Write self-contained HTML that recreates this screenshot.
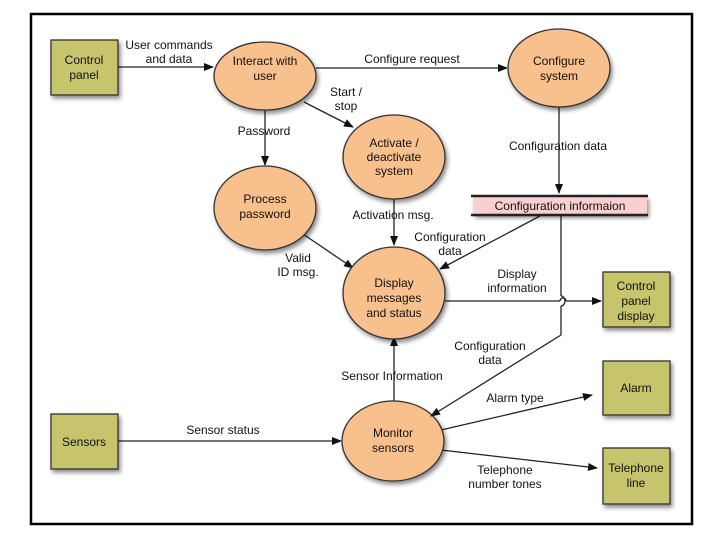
<!DOCTYPE html>
<html><head><meta charset="utf-8"><style>
html,body{margin:0;padding:0;background:#fff;}
svg{display:block;}
text{font-family:"Liberation Sans",sans-serif;font-size:12px;fill:#111;}
</style></head><body>
<svg width="720" height="540" viewBox="0 0 720 540" xmlns="http://www.w3.org/2000/svg">
<defs>
<marker id="a" markerWidth="10" markerHeight="8" refX="9" refY="4" orient="auto" markerUnits="userSpaceOnUse">
<path d="M0,0 L10,4 L0,8 z" fill="#111"/></marker>
<filter id="s" x="-20%" y="-20%" width="150%" height="150%"><feDropShadow dx="2" dy="3" stdDeviation="2" flood-color="#000" flood-opacity="0.45"/></filter>
</defs>
<rect x="31" y="14" width="661" height="510" fill="#fff" stroke="#000" stroke-width="2.5"/>

<g stroke="#222" stroke-width="1.3" fill="none">
<line x1="118" y1="67" x2="213" y2="67" marker-end="url(#a)"/>
<line x1="316" y1="68" x2="507" y2="68" marker-end="url(#a)"/>
<line x1="304" y1="102" x2="353" y2="127" marker-end="url(#a)"/>
<line x1="265" y1="110" x2="265" y2="165" marker-end="url(#a)"/>
<line x1="559" y1="107" x2="559" y2="193" marker-end="url(#a)"/>
<line x1="303" y1="234" x2="353" y2="268" marker-end="url(#a)"/>
<line x1="394" y1="199" x2="394" y2="245" marker-end="url(#a)"/>
<line x1="540" y1="216" x2="440" y2="269" marker-end="url(#a)"/>
<path d="M445,301 L560,301 M566,301 L601,301" marker-end="url(#a)"/>
<path d="M560,301 a3,3 0 0 1 6,0"/>
<path d="M561,216 L561,296 M561,306 L561,335"/>
<path d="M561,296 a4,5 0 0 1 0,10"/>
<line x1="394" y1="401" x2="394" y2="337" marker-end="url(#a)"/>
<line x1="118" y1="441" x2="341" y2="441" marker-end="url(#a)"/>
<line x1="441" y1="430" x2="592" y2="395" marker-end="url(#a)"/>
<line x1="441" y1="450" x2="597" y2="468" marker-end="url(#a)"/>
</g>

<g fill="#c6c46c" stroke="#333" stroke-width="1.3" filter="url(#s)">
<rect x="51" y="40" width="67" height="55"/>
<rect x="51" y="414" width="67" height="55"/>
<rect x="603" y="272" width="67" height="55"/>
<rect x="603" y="361" width="67" height="54"/>
<rect x="603" y="448" width="67" height="56"/>
</g>
<g fill="#f8c08c" stroke="#333" stroke-width="1.3" filter="url(#s)">
<ellipse cx="265" cy="76" rx="51" ry="34"/>
<ellipse cx="559" cy="68" rx="51" ry="39"/>
<ellipse cx="394" cy="157" rx="51" ry="42"/>
<ellipse cx="265" cy="208" rx="51" ry="42"/>
<ellipse cx="394" cy="293" rx="51" ry="46"/>
<ellipse cx="393" cy="441" rx="51" ry="40"/>
</g>
<line x1="561" y1="335" x2="431" y2="416" stroke="#222" stroke-width="1.3" marker-end="url(#a)"/>
<rect x="473" y="196" width="174" height="19" fill="#f9cfcf" filter="url(#s)"/>
<line x1="471" y1="196" x2="648" y2="196" stroke="#222" stroke-width="2.5"/>
<line x1="471" y1="215" x2="648" y2="215" stroke="#222" stroke-width="2.5"/>

<g text-anchor="middle">
<text x="84" y="64">Control</text><text x="84" y="79">panel</text>
<text x="84" y="446">Sensors</text>
<text x="636" y="290">Control</text><text x="636" y="305">panel</text><text x="636" y="320">display</text>
<text x="636" y="392">Alarm</text>
<text x="636" y="472">Telephone</text><text x="636" y="487">line</text>

<text x="265" y="65">Interact with</text><text x="265" y="80">user</text>
<text x="559" y="65">Configure</text><text x="559" y="80">system</text>
<text x="394" y="147">Activate /</text><text x="394" y="161">deactivate</text><text x="394" y="175">system</text>
<text x="265" y="203">Process</text><text x="265" y="218">password</text>
<text x="394" y="287">Display</text><text x="394" y="302">messages</text><text x="394" y="317">and status</text>
<text x="393" y="437">Monitor</text><text x="393" y="452">sensors</text>
<text x="560" y="210">Configuration informaion</text>

<text x="169" y="49">User commands</text><text x="169" y="63">and data</text>
<text x="412" y="63">Configure request</text>
<text x="346" y="96">Start /</text><text x="346" y="110">stop</text>
<text x="264" y="135">Password</text>
<text x="558" y="150">Configuration data</text>
<text x="393" y="219">Activation msg.</text>
<text x="450" y="241">Configuration</text><text x="450" y="255">data</text>
<text x="298" y="262">Valid</text><text x="298" y="276">ID msg.</text>
<text x="517" y="278">Display</text><text x="517" y="292">information</text>
<text x="490" y="350">Configuration</text><text x="490" y="364">data</text>
<text x="392" y="380">Sensor Information</text>
<text x="515" y="402">Alarm type</text>
<text x="223" y="434">Sensor status</text>
<text x="505" y="474">Telephone</text><text x="505" y="488">number tones</text>
</g>
</svg>
</body></html>
